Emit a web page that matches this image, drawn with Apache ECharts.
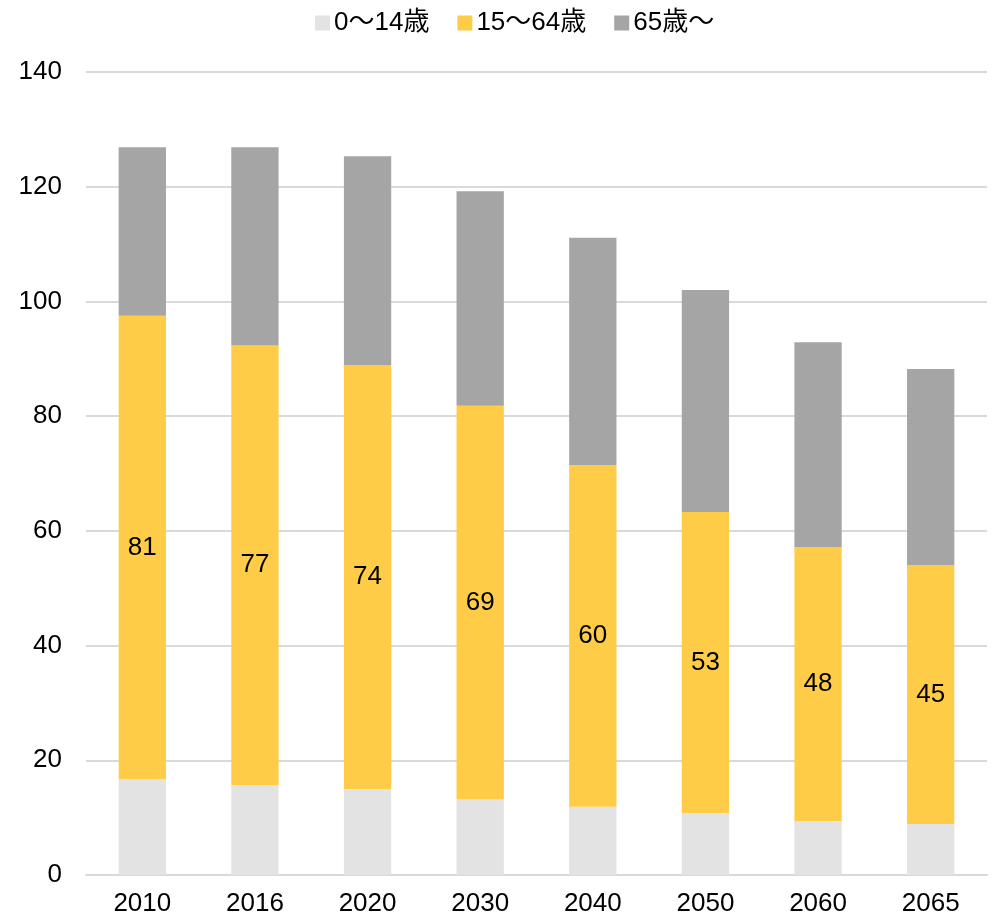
<!DOCTYPE html>
<html><head><meta charset="utf-8">
<script src="https://cdn.jsdelivr.net/npm/echarts@6/dist/echarts.min.js"></script>
<style>html,body{margin:0;padding:0;background:#fff}#c{width:993px;height:918px}</style>
</head><body><div id="c"></div>
<script>
const categories = ['2010','2016','2020','2030','2040','2050','2060','2065'];
const young = [16.7, 15.7, 15.0, 13.2, 11.9, 10.8, 9.4, 8.9];
const working = [80.8, 76.6, 73.9, 68.6, 59.6, 52.5, 47.8, 45.1];
const elderly = [29.4, 34.6, 36.4, 37.4, 39.6, 38.7, 35.7, 34.2];
const seriesNames = ['0～14歳', '15～64歳', '65歳～'];
const colors = ['#E3E3E3', '#FFCC47', '#A5A5A5'];
const font = '"Liberation Sans", Arial, "Noto Sans CJK JP", sans-serif';

const chart = echarts.init(document.getElementById('c'), null, {renderer:'canvas'});
chart.setOption({
  animation: false,
  color: colors,
  textStyle: {fontFamily: font},
  legend: {
    top: 5, left: 310,
    itemWidth: 15, itemHeight: 15, itemGap: 28,
    icon: 'rect',
    textStyle: {fontSize: 26, color: '#000', fontFamily: font, padding: [0,0,0,-1]},
    data: seriesNames
  },
  grid: {left: 86, right: 6, top: 72, bottom: 43, containLabel: false},
  xAxis: {
    type: 'category', data: categories,
    axisLine: {lineStyle: {color: '#D9D9D9', width: 2}},
    axisTick: {show: false},
    axisLabel: {fontSize: 26, color: '#000', margin: 16, fontFamily: font}
  },
  yAxis: {
    type: 'value', min: 0, max: 140, interval: 20,
    axisLine: {show: false}, axisTick: {show: false},
    splitLine: {lineStyle: {color: '#D9D9D9', width: 2}},
    axisLabel: {fontSize: 26, color: '#000', margin: 24, fontFamily: font}
  },
  series: [
    {name: seriesNames[0], type: 'bar', stack: 't', data: young, barWidth: '42%'},
    {name: seriesNames[1], type: 'bar', stack: 't', data: working, barWidth: '42%',
     label: {show: true, position: 'inside', fontSize: 26, color: '#000', fontFamily: font,
             formatter: p => Math.round(p.value)}},
    {name: seriesNames[2], type: 'bar', stack: 't', data: elderly, barWidth: '42%'}
  ]
});
</script></body></html>
